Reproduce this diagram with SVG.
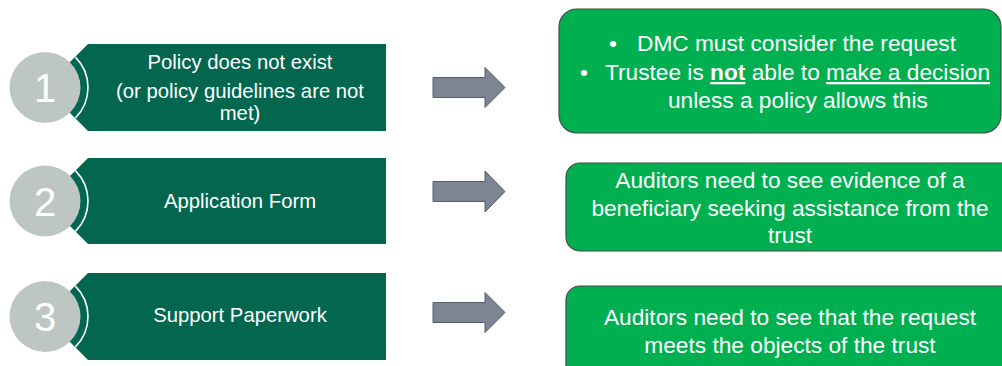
<svg xmlns="http://www.w3.org/2000/svg" width="1002" height="366" viewBox="0 0 1002 366">
<style>
.band{fill:#03664f;}
.disc{fill:#bec6c3;}
.arc{fill:none;stroke:#ffffff;stroke-width:1.6;}
.num{font-family:"Liberation Sans",Arial,sans-serif;font-size:40px;fill:#ffffff;text-anchor:middle;}
.lt{font-family:"Liberation Sans",Arial,sans-serif;font-size:20.3px;fill:#ffffff;text-anchor:middle;}
.box{fill:#00b050;stroke:#3f4f47;stroke-width:1.2;}
.rt{font-family:"Liberation Sans",Arial,sans-serif;font-size:22.7px;fill:#ffffff;}
.c{text-anchor:middle;}
.arrow{fill:#7d8594;stroke:#565d6a;stroke-width:1;}
</style>
<rect width="1002" height="366" fill="#ffffff"/>

<g id="step1">
<polygon class="band" points="88,44 386,44 386,131 88,131 44.5,87.5"/>
<path class="arc" d="M75.4,57.1 A43,43 0 0 1 75.4,117.9"/>
<circle class="disc" cx="45" cy="87.5" r="35.5"/>
<text class="num" x="45" y="102">1</text>
<text class="lt" x="240" y="69">Policy does not exist</text>
<text class="lt" x="240" y="98">(or policy guidelines are not</text>
<text class="lt" x="240" y="120">met)</text>
</g>

<g id="step2">
<polygon class="band" points="88,158 386,158 386,244 88,244 45,201"/>
<path class="arc" d="M75.4,170.6 A43,43 0 0 1 75.4,231.4"/>
<circle class="disc" cx="45" cy="201" r="35.5"/>
<text class="num" x="45" y="215.5">2</text>
<text class="lt" x="240" y="208">Application Form</text>
</g>

<g id="step3">
<polygon class="band" points="88,273 386,273 386,360 88,360 44.5,316.5"/>
<path class="arc" d="M75.4,286.1 A43,43 0 0 1 75.4,346.9"/>
<circle class="disc" cx="45" cy="316.5" r="35.5"/>
<text class="num" x="45" y="331">3</text>
<text class="lt" x="240" y="322">Support Paperwork</text>
</g>

<g id="connectors">
<polygon class="arrow" points="433,77.5 485,77.5 485,67.5 505,87.5 485,107.5 485,97.5 433,97.5"/>
<polygon class="arrow" points="433,181.5 485,181.5 485,171 505,191.5 485,212 485,201.5 433,201.5"/>
<polygon class="arrow" points="433,302.5 485,302.5 485,292.5 505,312.5 485,332.5 485,322.5 433,322.5"/>
</g>

<g id="outcome1">
<rect class="box" x="559" y="9" width="442" height="124" rx="18"/>
<text class="rt" x="609" y="51">•</text>
<text class="rt" x="637" y="51">DMC must consider the request</text>
<text class="rt" x="580" y="80">•</text>
<text class="rt" x="605" y="80">Trustee is <tspan font-weight="bold" text-decoration="underline">not</tspan> able to <tspan text-decoration="underline">make a decision</tspan></text>
<text class="rt" x="668" y="108">unless a policy allows this</text>
</g>

<g id="outcome2">
<rect class="box" x="566" y="163" width="448" height="88" rx="14"/>
<text class="rt c" x="790" y="188">Auditors need to see evidence of a</text>
<text class="rt c" x="790" y="216">beneficiary seeking assistance from the</text>
<text class="rt c" x="790" y="243">trust</text>
</g>

<g id="outcome3">
<rect class="box" x="566" y="286" width="448" height="100" rx="14"/>
<text class="rt c" x="790" y="325">Auditors need to see that the request</text>
<text class="rt c" x="790" y="353">meets the objects of the trust</text>
</g>
</svg>
